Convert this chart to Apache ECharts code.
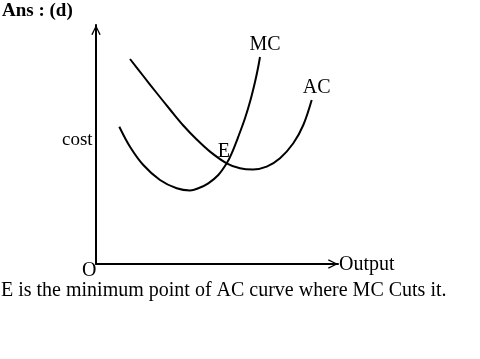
<!DOCTYPE html>
<html>
<head>
<meta charset="utf-8">
<script src="https://cdn.jsdelivr.net/npm/echarts@6/dist/echarts.min.js"></script>
<style>html,body{margin:0;padding:0;background:#fff;}#c{width:480px;height:359px;}</style>
</head>
<body>
<div id="c"></div>
<script>
// Output (x) and cost (y) readings, in chart units
const mcOutput = [23.3, 34, 47.3, 64, 80.7, 94, 102.3, 112.3, 122.3, 130.7, 135.7, 142.3, 149, 154.5, 159, 162, 164];
const mcCost   = [137.3, 117.3, 99, 84, 75.7, 73.5, 75.7, 80.7, 89, 100.7, 110.7, 127.3, 145.7, 164, 182, 196, 207];
const acOutput = [34, 47.3, 60.7, 74, 87.3, 100.7, 114, 130.7, 144, 157, 170.7, 184, 197.3, 207.3, 215.7];
const acCost   = [205, 188, 171, 154.5, 138.5, 124.5, 112.4, 100.7, 95.7, 94.5, 97.3, 105.7, 120.7, 139, 164];
const seriesNames = ['MC', 'AC'];
const pointE = [130.7, 100.7];
const axisMax = [242, 239];

const font = '"Liberation Serif", "Times New Roman", serif';
const arrow = 'path://M0,10 L5,0 L10,10 L8.6,10.6 L5,2.6 L1.4,10.6 Z';

const chart = echarts.init(document.getElementById('c'));
const axisLine = {
  show: true,
  symbol: ['none', arrow],
  symbolSize: [11, 10],
  symbolOffset: [0, -5],
  lineStyle: { color: '#000', width: 2 }
};
const lineSeries = (name, xs, ys) => ({
  name: name, type: 'line', smooth: 0.35, symbol: 'none',
  lineStyle: { color: '#000', width: 2 },
  data: xs.map((x, i) => [x, ys[i]])
});
const labelStyle = { fontFamily: font, fontSize: 20, color: '#000', opacity: 1 };
const endLabel = (name, xs, ys) => ({
  type: 'scatter', symbolSize: 0, silent: true, itemStyle: { opacity: 1 },
  data: [[xs[xs.length - 1], ys[ys.length - 1]]],
  label: Object.assign({ show: true, formatter: name, position: 'top', distance: 2, offset: [5, 0] }, labelStyle)
});
chart.setOption({
  animation: false,
  grid: { left: 96, top: 25, width: 242, height: 239 },
  xAxis: { type: 'value', min: 0, max: axisMax[0], axisLine: axisLine,
    axisTick: { show: false }, axisLabel: { show: false }, splitLine: { show: false } },
  yAxis: { type: 'value', min: 0, max: axisMax[1], axisLine: axisLine,
    axisTick: { show: false }, axisLabel: { show: false }, splitLine: { show: false } },
  series: [
    lineSeries(seriesNames[0], mcOutput, mcCost),
    lineSeries(seriesNames[1], acOutput, acCost),
    endLabel(seriesNames[0], mcOutput, mcCost),
    endLabel(seriesNames[1], acOutput, acCost),
    { type: 'scatter', symbolSize: 0, silent: true, itemStyle: { opacity: 1 }, data: [pointE],
      label: Object.assign({ show: true, formatter: 'E', position: [-9, -22] }, labelStyle) }
  ],
  graphic: [
    { type: 'text', left: 2, top: 2, style: { text: 'Ans : (d)', font: 'bold 19px ' + font, fill: '#000' } },
    { type: 'text', left: 62, top: 131, style: { text: 'cost', font: '19px ' + font, fill: '#000' } },
    { type: 'text', left: 82, top: 261, style: { text: 'O', font: '20px ' + font, fill: '#000' } },
    { type: 'text', left: 339, top: 255, style: { text: 'Output', font: '20px ' + font, fill: '#000' } },
    { type: 'text', left: 1, top: 281, style: { text: 'E is the minimum point of AC curve where MC Cuts it.', font: '20px ' + font, fill: '#000' } }
  ]
});
</script>
</body>
</html>
